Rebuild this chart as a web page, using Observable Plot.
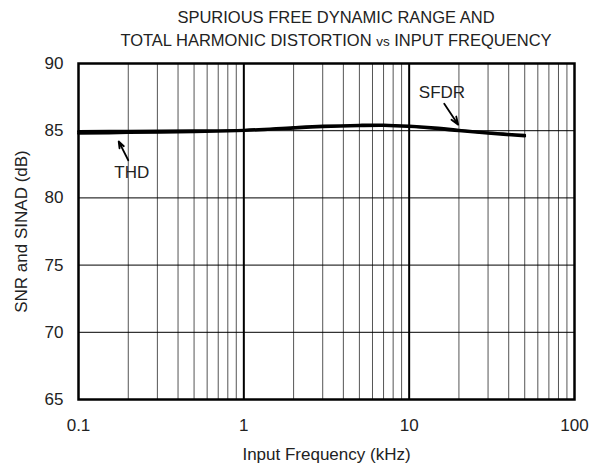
<!DOCTYPE html>
<html><head><meta charset="utf-8">
<script src="https://cdn.jsdelivr.net/npm/d3@7"></script>
<script src="https://cdn.jsdelivr.net/npm/@observablehq/plot@0.6"></script>
<style>
body{margin:0;background:#fff;font-family:"Liberation Sans",Arial,sans-serif;}
#title{width:590px;box-sizing:border-box;padding-left:82px;text-align:center;font-size:16.5px;line-height:23px;color:#222;padding-top:6px;height:53px;white-space:nowrap;}
.vs{font-size:13.5px;}
</style></head><body>
<div id="title">SPURIOUS FREE DYNAMIC RANGE AND<br>TOTAL HARMONIC DISTORTION <span class="vs">vs</span> INPUT FREQUENCY</div>
<div id="chart"></div>
<script>
const freq = [0.1, 0.2, 0.5, 1, 2, 3, 5, 7, 10, 15, 20, 30, 50];
const sfdr = [84.95, 84.97, 85.0, 85.05, 85.25, 85.35, 85.42, 85.43, 85.35, 85.2, 85.05, 84.85, 84.66];
const thd  = [84.8, 84.85, 84.92, 85.0, 85.18, 85.28, 85.36, 85.38, 85.3, 85.13, 84.98, 84.8, 84.6];
const xTicks = [0.1, 1, 10, 100];
const xTickLabels = ["0.1", "1", "10", "100"];
const yTicks = [65, 70, 75, 80, 85, 90];
const minorX = [0.2,0.3,0.4,0.5,0.6,0.7,0.8,0.9,2,3,4,5,6,7,8,9,20,30,40,50,60,70,80,90];
const majorX = [1, 10];
const gridY = [70, 75, 80, 85];
const labels = [{x: 0.21, y: 81.9, text: "THD"}, {x: 15.8, y: 87.85, text: "SFDR"}];
const arrows = [{x1: 0.2, y1: 82.8, x2: 0.175, y2: 84.2}, {x1: 16.3, y1: 87.0, x2: 19.8, y2: 85.45}];

const sfdrData = freq.map((f, i) => ({f, v: sfdr[i]}));
const thdData = freq.map((f, i) => ({f, v: thd[i]}));
const fmtX = d => xTickLabels[xTicks.indexOf(d)];

const chart = Plot.plot({
  width: 590, height: 415,
  marginLeft: 78, marginRight: 16, marginTop: 10, marginBottom: 69,
  style: {fontFamily: "'Liberation Sans', Arial, sans-serif", fontSize: "17px", color: "#222"},
  x: {type: "log", domain: [0.1, 100]},
  y: {domain: [65, 90]},
  marks: [
    Plot.ruleX(minorX, {stroke: "#555", strokeWidth: 1}),
    Plot.ruleX(majorX, {stroke: "#000", strokeWidth: 2}),
    Plot.ruleY(gridY, {stroke: "#000", strokeWidth: 1}),
    Plot.line(thdData, {x: "f", y: "v", stroke: "#000", strokeWidth: 2.8, curve: "catmull-rom"}),
    Plot.line(sfdrData, {x: "f", y: "v", stroke: "#000", strokeWidth: 2.8, curve: "catmull-rom"}),
    Plot.arrow(arrows, {x1: "x1", y1: "y1", x2: "x2", y2: "y2", stroke: "#000", strokeWidth: 1.8, headLength: 10, headAngle: 40}),
    Plot.text(labels, {x: "x", y: "y", text: "text", fontSize: 17, fill: "#222"}),
    Plot.frame({stroke: "#000", strokeWidth: 2.5}),
    Plot.axisX({ticks: xTicks, tickFormat: fmtX, tickSize: 0, tickPadding: 19, fontSize: 17, label: "Input Frequency (kHz)", labelAnchor: "center", labelOffset: 60, labelArrow: "none"}),
    Plot.axisY({ticks: yTicks, tickSize: 0, tickPadding: 15, fontSize: 17, label: "SNR and SINAD (dB)", labelAnchor: "center", labelOffset: 64, labelArrow: "none"})
  ]
});
document.getElementById("chart").appendChild(chart);
</script>
</body></html>
